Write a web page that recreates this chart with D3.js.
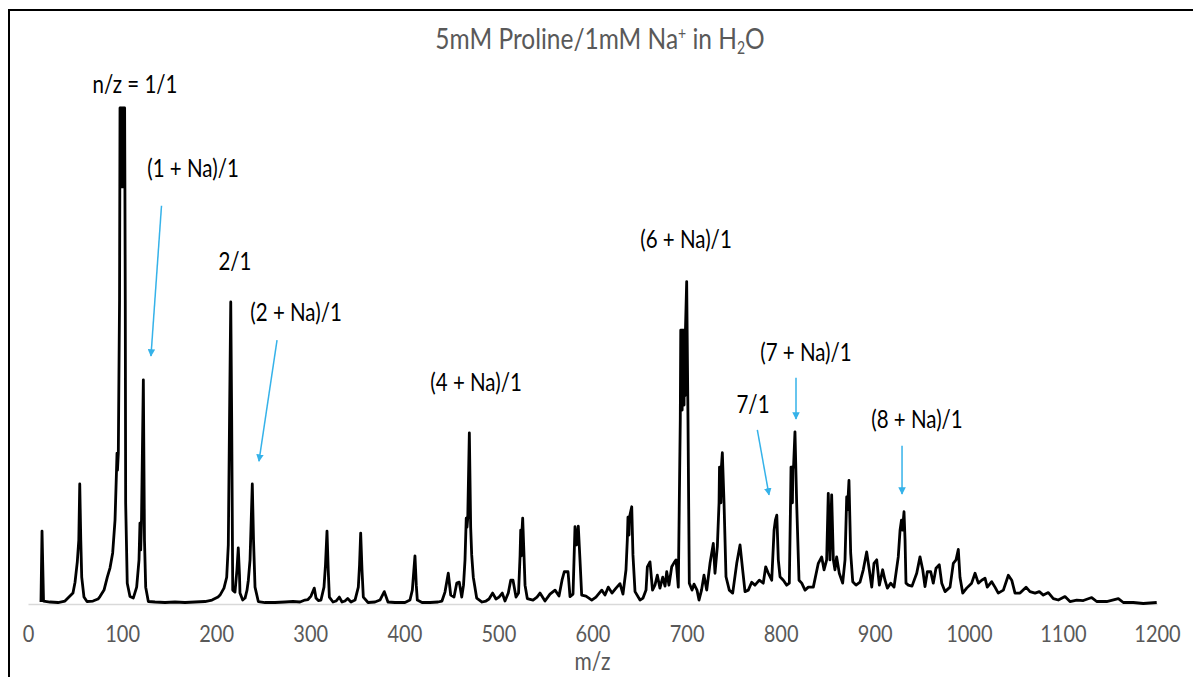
<!DOCTYPE html>
<html>
<head>
<meta charset="utf-8">
<script src="https://cdn.jsdelivr.net/npm/d3@7"></script>
<style>
  html, body { margin: 0; padding: 0; background: #fff; }
  svg { display: block; }
  .tick text { fill: #595959; }
</style>
</head>
<body>
<div id="chart"></div>
<script>
// Spectrum: [m/z, relative intensity %]
const spectrumLow = [
  [13.8, 0.4], [14.9, 14.7], [16.5, 0.6], [23.4, 0.4], [31.9, 0.3], [39.3, 0.6], [44.6, 1.6],
  [47.8, 2.2], [50.0, 4.4], [52.4, 8.5], [54.0, 12.9], [55.0, 24.2], [56.1, 12.9], [57.1, 5.4],
  [59.5, 1.4], [62.7, 0.5], [69.1, 0.6], [74.4, 1.0], [76.5, 1.5], [80.8, 2.8], [84.3, 5.4],
  [87.2, 7.3], [90.0, 10.3], [92.5, 16.9], [94.1, 27.0], [94.6, 30.4], [95.1, 27.0], [96.0, 30.4],
  [97.3, 61.3], [97.8, 100], [98.3, 84.1], [98.8, 100], [99.3, 84.1], [99.8, 100], [100.3, 84.1],
  [100.8, 100], [101.3, 84.1], [101.8, 100], [102.3, 84.1], [102.7, 100], [103.0, 84.1],
  [103.4, 61.3], [103.8, 20.4], [105.5, 4.2], [108.4, 1.5], [111.9, 1.2], [115.5, 3.4], [118.0, 8.9],
  [119.0, 16.3], [119.8, 10.9], [120.6, 16.3], [122.6, 45.2], [123.8, 12.9], [125.1, 3.4], [127.9, 0.5],
  [135.0, 0.4], [145.6, 0.3], [156.2, 0.4], [166.9, 0.3], [177.5, 0.4], [188.1, 0.5], [195.6, 0.8],
  [202.0, 1.4], [204.1, 1.8], [208.3, 3.2], [211.2, 5.4], [212.9, 11.9], [214.2, 37.1], [215.5, 60.9],
  [216.5, 37.1], [217.6, 2.8], [220.0, 2.4], [222.1, 6.9], [223.5, 11.3], [224.8, 5.8], [225.3, 2.2],
  [228.2, 0.8], [230.7, 1.2], [232.8, 2.8], [234.2, 4.8], [236.0, 8.9], [238.4, 24.2], [239.7, 12.9],
  [241.3, 3.4], [244.8, 0.5], [251.9, 0.3], [262.5, 0.3], [273.2, 0.4], [281.7, 0.5], [289.1, 0.4],
  [294.4, 0.8], [297.6, 0.9], [300.8, 1.6], [304.3, 3.2], [306.1, 1.2]
];

const spectrumMid = [
  [308.6, 0.7], [311.4, 0.8], [314.6, 3.4], [316.2, 7.9], [317.8, 14.7], [319.1, 6.9], [320.3, 1.4],
  [324.2, 0.4], [327.4, 0.6], [330.9, 1.4], [333.8, 0.4], [336.9, 0.6], [339.8, 1.1], [343.3, 0.4],
  [347.6, 0.8], [351.1, 3.4], [352.4, 7.9], [353.6, 14.3], [355.0, 6.9], [356.4, 1.4], [361.4, 0.3],
  [368.8, 0.4], [374.1, 0.8], [378.7, 2.5], [382.6, 0.4], [390.1, 0.3], [400.7, 0.3], [406.0, 0.8],
  [408.5, 2.8], [411.3, 9.7], [412.7, 3.8], [413.8, 0.8], [418.8, 0.3], [427.3, 0.3], [435.8, 0.4],
  [440.0, 0.6], [443.2, 2.4], [446.7, 6.2], [449.3, 1.8], [452.8, 1.4], [455.7, 4.2], [458.4, 4.4],
  [461.0, 1.4], [462.9, 3.8], [464.5, 8.9], [465.8, 17.3], [466.6, 15.5], [467.4, 17.3], [469.1, 34.5],
  [470.5, 15.5], [471.6, 9.9], [473.3, 5.4], [476.9, 1.2], [482.6, 0.4], [486.8, 0.6], [490.0, 1.0],
  [493.9, 2.2], [497.4, 1.0], [500.6, 1.4], [504.1, 2.2], [507.0, 0.6], [510.5, 2.2], [513.1, 4.8],
  [515.5, 4.8], [518.7, 1.4], [521.4, 2.2], [523.0, 9.7], [523.7, 14.9], [524.3, 9.7], [525.1, 14.9],
  [525.8, 17.3], [527.0, 10.9], [528.3, 3.8], [530.7, 1.1], [536.8, 0.8], [541.0, 1.4], [544.2, 2.2],
  [549.5, 0.6], [554.8, 2.0], [560.2, 2.8], [564.4, 1.6], [567.6, 4.8], [570.0, 6.5], [574.0, 6.5],
  [576.1, 1.5], [579.3, 2.0], [581.4, 15.6], [583.0, 11.9], [584.9, 15.7], [586.7, 8.9], [588.5, 1.8],
  [593.1, 1.6], [599.2, 0.8], [603.7, 1.4], [609.8, 2.8], [613.3, 1.8], [616.8, 3.4], [620.7, 2.2],
  [625.0, 3.2], [629.2, 4.1], [632.4, 2.0], [635.6, 6.9], [637.0, 12.9], [637.7, 17.5], [638.8, 13.9],
  [639.3, 17.5], [641.7, 19.6], [643.0, 9.9], [645.2, 2.5], [650.5, 0.8], [653.7, 1.2], [656.9, 2.8],
  [658.3, 7.5], [661.1, 8.5], [663.8, 2.8], [666.4, 3.8], [668.9, 5.8], [671.7, 3.2], [674.6, 5.4],
  [677.1, 3.6], [678.9, 6.5], [681.3, 3.8], [684.2, 7.5], [686.6, 8.3], [688.8, 8.9], [691.2, 3.4]
];

const spectrumHigh = [
  [693.3, 37.1], [693.8, 55.2], [694.3, 39.1], [694.8, 55.2], [695.3, 39.1], [695.8, 55.2], [696.3, 40.1],
  [696.8, 55.2], [697.3, 40.1], [697.8, 55.2], [698.3, 42.0], [698.8, 55.2], [700.1, 65.0],
  [701.5, 37.1], [702.9, 4.2], [705.8, 2.8], [707.9, 4.0], [711.1, 2.8], [713.2, 0.8], [715.9, 2.8],
  [718.5, 5.8], [721.4, 2.8], [724.9, 8.2], [728.4, 12.2], [730.2, 6.2], [732.7, 11.6], [734.5, 20.4],
  [735.0, 27.6], [735.5, 20.4], [736.0, 27.6], [736.5, 20.4], [737.0, 27.6], [738.0, 30.5], [739.8, 20.4],
  [741.9, 5.5], [745.4, 2.8],
  [749.0, 2.2], [753.3, 8.2], [756.8, 11.9], [759.6, 6.9], [762.1, 2.5], [765.6, 2.8], [769.2, 4.4],
  [772.7, 3.8], [777.3, 4.8], [781.5, 4.2], [784.1, 7.5], [786.9, 6.2], [790.5, 4.8], [793.0, 14.9],
  [794.4, 16.9], [795.9, 17.9], [797.5, 8.9], [799.3, 5.5], [802.8, 4.8], [806.4, 3.8], [809.2, 4.2],
  [810.5, 20.4], [811.0, 27.6], [811.5, 20.4], [812.0, 27.6], [812.5, 20.4], [813.0, 27.6], [813.7, 27.6],
  [815.2, 34.7], [817.0, 20.4], [819.5, 4.8],
  [822.4, 4.2], [825.9, 2.8], [829.4, 3.4], [834.7, 3.4], [840.0, 8.2], [843.6, 9.5], [846.1, 6.9],
  [848.9, 8.9], [850.6, 22.3], [852.4, 8.9], [854.2, 22.0], [856.0, 8.9], [857.7, 6.9], [859.5, 9.5],
  [862.3, 6.2], [865.9, 4.2], [868.4, 8.9], [870.2, 21.6], [871.0, 19.0], [872.6, 24.9], [874.4, 10.3],
  [876.6, 4.5], [880.1, 3.8], [884.3, 4.4], [887.8, 6.9], [891.4, 10.5], [894.2, 6.9], [896.8, 3.4],
  [899.2, 8.2], [902.1, 8.9], [904.9, 3.8], [908.4, 6.9], [910.9, 4.8], [913.4, 3.2], [916.9, 4.2],
  [920.5, 3.4], [925.0, 9.5], [926.9, 14.9], [928.4, 16.9], [929.5, 14.9], [931.1, 18.6], [932.2, 12.9],
  [933.2, 4.2], [935.7, 3.8], [939.6, 3.6], [944.6, 6.2], [948.1, 9.5], [951.0, 6.9], [953.4, 3.5],
  [955.9, 6.5], [959.5, 6.5], [962.2, 4.2], [965.1, 7.2], [968.6, 7.9], [971.2, 4.2], [974.7, 2.5],
  [980.0, 3.4], [983.5, 8.2], [986.4, 8.9], [988.8, 11.0], [990.6, 5.4], [993.5, 2.2], [997.7, 3.2],
  [1003.0, 4.2], [1006.6, 6.2], [1010.1, 4.2], [1013.7, 4.8], [1017.2, 5.2], [1019.6, 3.4], [1024.3, 4.5],
  [1027.8, 3.4], [1031.3, 2.2], [1036.7, 2.8], [1042.0, 5.8], [1045.6, 4.8], [1049.1, 2.2], [1054.4, 2.2],
  [1060.8, 3.4], [1065.0, 2.5], [1070.4, 2.2], [1074.9, 2.5], [1079.2, 1.8], [1084.5, 2.3], [1089.8, 1.1],
  [1095.1, 0.8], [1102.2, 1.5], [1107.5, 0.5], [1114.7, 0.8], [1121.7, 0.7], [1130.6, 1.3], [1135.9, 0.5],
  [1146.5, 0.5], [1158.9, 1.1], [1164.2, 0.3], [1174.8, 0.3], [1185.4, 0.1], [1199.7, 0.3]
];

const xTicks = [0, 100, 200, 300, 400, 500, 600, 700, 800, 900, 1000, 1100, 1200];

// peak labels: text, anchor m/z, intensity at text baseline
const peakLabels = [
  { text: 'n/z = 1/1', mz: 113.7, y: 103.0 },
  { text: '(1 + Na)/1', mz: 175.4, y: 86.1 },
  { text: '2/1', mz: 220.0, y: 67.3 },
  { text: '(2 + Na)/1', mz: 284.9, y: 57.1 },
  { text: '(4 + Na)/1', mz: 476.2, y: 42.9 },
  { text: '(6 + Na)/1', mz: 699.4, y: 71.8 },
  { text: '7/1', mz: 770.6, y: 38.5 },
  { text: '(7 + Na)/1', mz: 826.9, y: 49.0 },
  { text: '(8 + Na)/1', mz: 944.9, y: 35.5 }
];

// blue arrows: from [m/z, intensity] to [m/z, intensity]
const arrows = [
  { from: [141.9, 80.3], to: [130.7, 50.0] },
  { from: [264.7, 53.2], to: [245.5, 28.8] },
  { from: [775.2, 35.1], to: [787.6, 22.0] },
  { from: [816.3, 45.6], to: [816.3, 37.3] },
  { from: [929.0, 31.9], to: [929.0, 22.2] }
];

const width = 1193;
const height = 677;
const font = 'Lato, "Open Sans", sans-serif';
const arrowColor = '#35b2e9';
const stretch = 1.18; // reference text is taller than it is wide

const svg = d3.select('#chart').append('svg')
  .attr('width', width)
  .attr('height', height);

// chart frame
svg.append('rect')
  .attr('x', 9)
  .attr('y', 10)
  .attr('width', width - 8)
  .attr('height', height + 10)
  .attr('fill', '#fff')
  .attr('stroke', '#000')
  .attr('stroke-width', 2);

const x = d3.scaleLinear().domain([0, 1200]).range([28, 1157]);
const y = d3.scaleLinear().domain([0, 100]).range([604, 108]);

// title
const title = svg.append('text')
  .attr('transform', `translate(600,49) scale(1,${stretch})`)
  .attr('text-anchor', 'middle')
  .attr('fill', '#595959')
  .style('font-family', font)
  .style('font-size', '24.5px');
title.append('tspan').text('5mM Proline/1mM Na');
title.append('tspan').attr('dy', -8).style('font-size', '14px').text('+');
title.append('tspan').attr('dy', 8).text(' in H');
title.append('tspan').attr('dy', 4).style('font-size', '14px').text('2');
title.append('tspan').attr('dy', -4).text('O');

// x axis
const xAxis = svg.append('g')
  .attr('transform', `translate(0,${y(0)})`)
  .call(d3.axisBottom(x).tickValues(xTicks).tickFormat(d3.format('d')).tickSize(0).tickSizeOuter(0));
xAxis.select('.domain').attr('stroke', '#d9d9d9').attr('stroke-width', 1.5);
xAxis.selectAll('.tick text')
  .attr('y', 0)
  .attr('dy', null)
  .attr('transform', `translate(0,38) scale(1,${stretch})`)
  .style('font-family', font)
  .style('font-size', '20px');

svg.append('text')
  .attr('transform', `translate(${(x(0) + x(1200)) / 2},670) scale(1,${stretch})`)
  .attr('text-anchor', 'middle')
  .attr('fill', '#595959')
  .style('font-family', font)
  .style('font-size', '21px')
  .text('m/z');

// spectrum line
const spectrum = spectrumLow.concat(spectrumMid, spectrumHigh);
const line = d3.line()
  .x(d => x(d[0]))
  .y(d => y(d[1]));

svg.append('path')
  .datum(spectrum)
  .attr('d', line)
  .attr('fill', 'none')
  .attr('stroke', '#000')
  .attr('stroke-width', 2.8)
  .attr('stroke-linejoin', 'round');

// arrow heads
svg.append('defs').append('marker')
  .attr('id', 'head')
  .attr('viewBox', '0 0 10 10')
  .attr('refX', 9)
  .attr('refY', 5)
  .attr('markerWidth', 5)
  .attr('markerHeight', 5)
  .attr('orient', 'auto')
  .append('path')
  .attr('d', 'M0,0 L10,5 L0,10 Z')
  .attr('fill', arrowColor);

svg.selectAll('.arrow')
  .data(arrows)
  .enter().append('line')
  .attr('class', 'arrow')
  .attr('x1', d => x(d.from[0]))
  .attr('y1', d => y(d.from[1]))
  .attr('x2', d => x(d.to[0]))
  .attr('y2', d => y(d.to[1]))
  .attr('stroke', arrowColor)
  .attr('stroke-width', 1.5)
  .attr('marker-end', 'url(#head)');

// peak labels
svg.selectAll('.peak-label')
  .data(peakLabels)
  .enter().append('text')
  .attr('class', 'peak-label')
  .attr('transform', d => `translate(${x(d.mz)},${y(d.y)}) scale(1,${stretch})`)
  .attr('text-anchor', 'middle')
  .attr('fill', '#000')
  .style('font-family', font)
  .style('font-size', '20.5px')
  .text(d => d.text);
</script>
</body>
</html>
